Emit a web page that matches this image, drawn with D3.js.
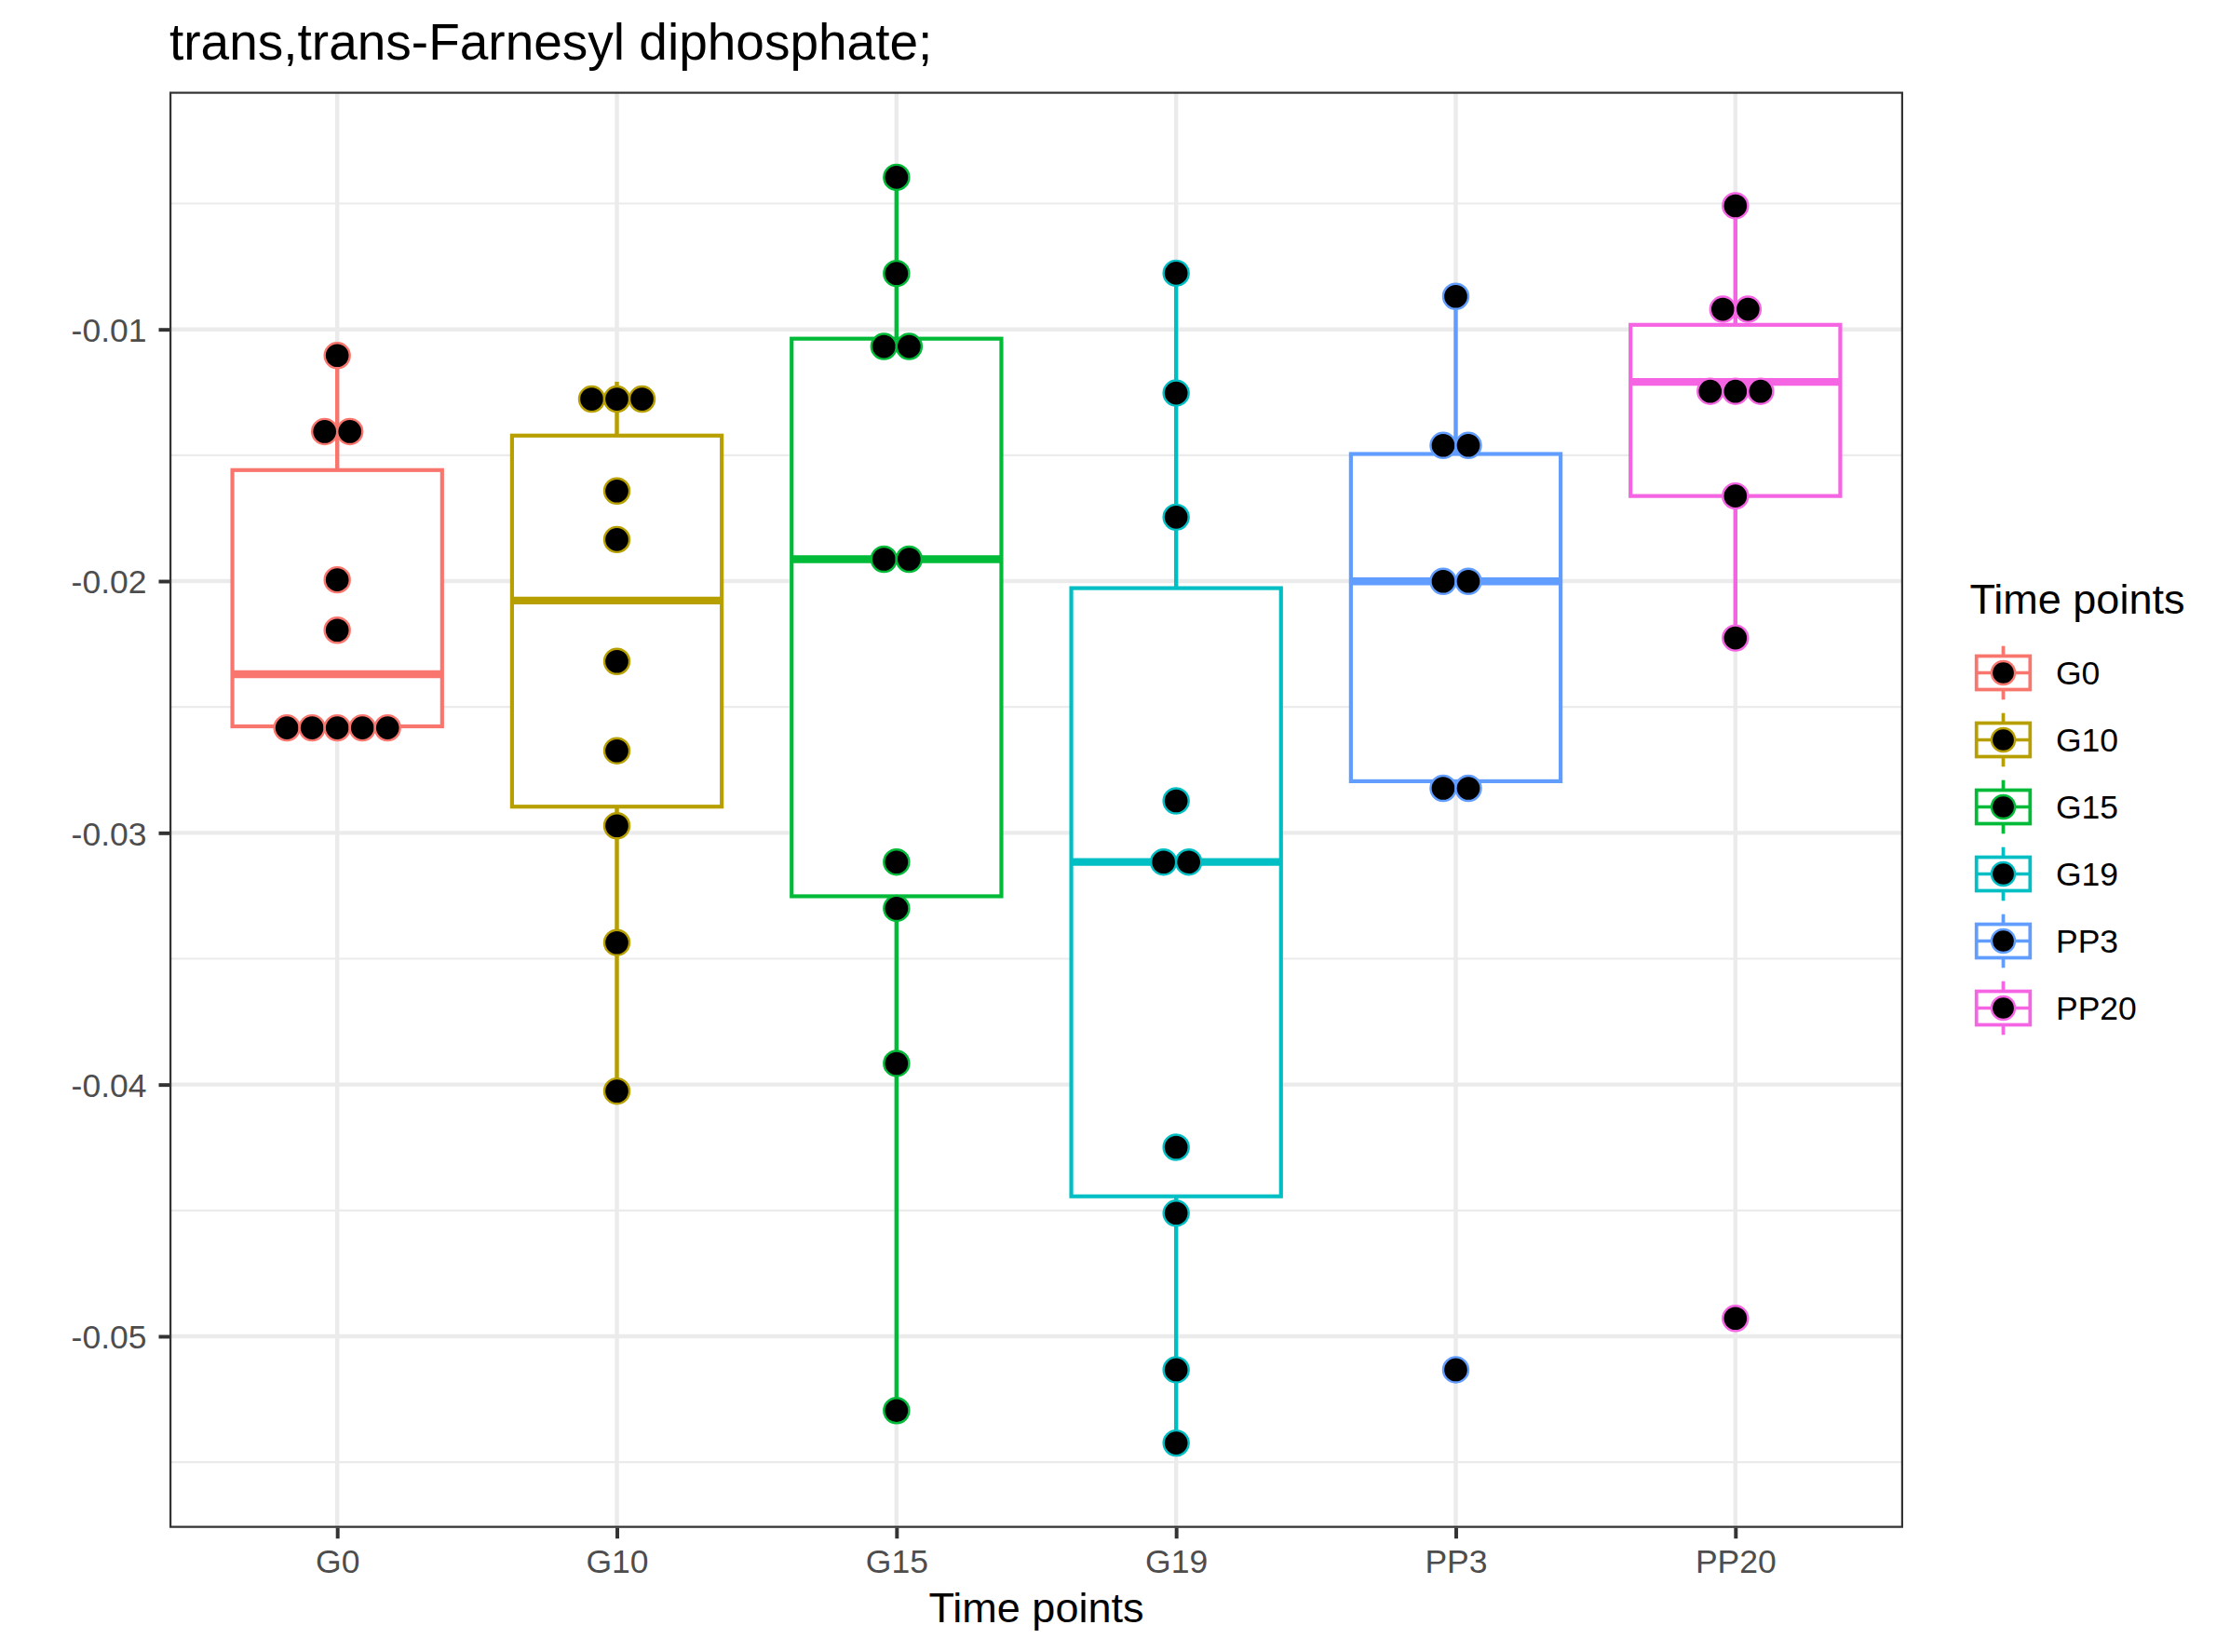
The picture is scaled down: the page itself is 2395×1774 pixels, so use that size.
<!DOCTYPE html>
<html><head><meta charset="utf-8">
<script src="https://cdn.jsdelivr.net/npm/d3@7"></script>
<style>
body{margin:0;background:#fff}
svg{display:block}
text{font-family:"Liberation Sans", Arial, Helvetica, sans-serif}
</style>
</head><body>
<svg id="chart" width="2395" height="1774"></svg>
<script>
// ---------------- data ----------------
const categories = ["G0","G10","G15","G19","PP3","PP20"];
const groupColors = ["#F8766D","#B79F00","#00BA38","#00BFC4","#619CFF","#F564E3"];

// dot positions (binned dotplot values, repeats are stacked side by side)
const dotsG0   = [-0.01104,-0.01406,-0.01406,-0.01995,-0.02195,-0.02583,-0.02583,-0.02583,-0.02583,-0.02583];
const dotsG10  = [-0.01277,-0.01277,-0.01277,-0.01642,-0.01835,-0.02319,-0.02674,-0.02972,-0.03436,-0.04026];
const dotsG15  = [-0.00396,-0.00778,-0.01068,-0.01068,-0.01913,-0.01913,-0.03116,-0.03300,-0.03916,-0.05295];
const dotsG19  = [-0.00777,-0.01253,-0.01746,-0.02873,-0.03116,-0.03116,-0.04249,-0.04511,-0.05133,-0.05424];
const dotsPP3  = [-0.00869,-0.01461,-0.01461,-0.02001,-0.02001,-0.02823,-0.02823,-0.05133];
const dotsPP20 = [-0.00509,-0.00920,-0.00920,-0.01246,-0.01246,-0.01246,-0.01662,-0.02226,-0.04929];

// boxplot statistics per category (same order as categories)
const whiskerHigh = [-0.01104,-0.01208,-0.00396,-0.00777,-0.00869,-0.00509];
const upperHinge  = [-0.01559,-0.01422,-0.01037,-0.02028,-0.01495,-0.00982];
const medians     = [-0.02370,-0.02077,-0.01913,-0.03116,-0.02001,-0.01209];
const lowerHinge  = [-0.02577,-0.02896,-0.03252,-0.04444,-0.02795,-0.01662];
const whiskerLow  = [-0.02577,-0.04026,-0.05295,-0.05424,-0.02823,-0.02226];

const yDomain = [-0.05761, -0.00056];
const yMajorTicks = [-0.05,-0.04,-0.03,-0.02,-0.01];
const yTickLabels = ["-0.05","-0.04","-0.03","-0.02","-0.01"];
const yMinorTicks = [-0.055,-0.045,-0.035,-0.025,-0.015,-0.005];
const binwidth = 0.001;

const titleText = "trans,trans-Farnesyl diphosphate;";
const xTitle = "Time points";
const legendTitle = "Time points";

// ---------------- layout ----------------
const W = 2395, H = 1774;
const P = {left:182, right:2044, top:98.5, bottom:1640.7};
const LW = 4.4;            // base line width
const smallFont = 35.5, midFont = 45, titleFont = 55;

const svg = d3.select("#chart");
svg.append("rect").attr("width",W).attr("height",H).attr("fill","#fff");

const x = d3.scalePoint().domain(categories).range([P.left,P.right]).padding(0.6);
const y = d3.scaleLinear().domain(yDomain).range([P.bottom,P.top]);
const color = d3.scaleOrdinal().domain(categories).range(groupColors);
const step = x.step();
const boxW = step*0.75;
const dotSpacing = y(-binwidth) - y(0);
const dotR = dotSpacing/2;

const dotData = {G0:dotsG0, G10:dotsG10, G15:dotsG15, G19:dotsG19, PP3:dotsPP3, PP20:dotsPP20};

// clip for panel
svg.append("defs").append("clipPath").attr("id","panelClip")
  .append("rect").attr("x",P.left).attr("y",P.top)
  .attr("width",P.right-P.left).attr("height",P.bottom-P.top);

const panel = svg.append("g").attr("clip-path","url(#panelClip)");

// grid
panel.append("g").selectAll("line").data(yMinorTicks).join("line")
  .attr("x1",P.left).attr("x2",P.right).attr("y1",d=>y(d)).attr("y2",d=>y(d))
  .attr("stroke","#EBEBEB").attr("stroke-width",LW/2);
panel.append("g").selectAll("line").data(yMajorTicks).join("line")
  .attr("x1",P.left).attr("x2",P.right).attr("y1",d=>y(d)).attr("y2",d=>y(d))
  .attr("stroke","#EBEBEB").attr("stroke-width",LW);
panel.append("g").selectAll("line").data(categories).join("line")
  .attr("y1",P.top).attr("y2",P.bottom).attr("x1",d=>x(d)).attr("x2",d=>x(d))
  .attr("stroke","#EBEBEB").attr("stroke-width",LW);

// boxplots
const boxes = categories.map((c,i)=>({cat:c, hi:whiskerHigh[i], q3:upperHinge[i], med:medians[i], q1:lowerHinge[i], lo:whiskerLow[i]}));
const bg = panel.append("g").selectAll("g").data(boxes).join("g");
bg.append("line").attr("x1",d=>x(d.cat)).attr("x2",d=>x(d.cat))
  .attr("y1",d=>y(d.q3)).attr("y2",d=>y(d.hi)).attr("stroke",d=>color(d.cat)).attr("stroke-width",LW);
bg.append("line").attr("x1",d=>x(d.cat)).attr("x2",d=>x(d.cat))
  .attr("y1",d=>y(d.q1)).attr("y2",d=>y(d.lo)).attr("stroke",d=>color(d.cat)).attr("stroke-width",LW);
bg.append("rect").attr("x",d=>x(d.cat)-boxW/2).attr("width",boxW)
  .attr("y",d=>y(d.q3)).attr("height",d=>y(d.q1)-y(d.q3))
  .attr("fill","#fff").attr("stroke",d=>color(d.cat)).attr("stroke-width",LW*0.95);
bg.append("line").attr("x1",d=>x(d.cat)-boxW/2).attr("x2",d=>x(d.cat)+boxW/2)
  .attr("y1",d=>y(d.med)).attr("y2",d=>y(d.med)).attr("stroke",d=>color(d.cat)).attr("stroke-width",LW*1.9);

// dots (centred stacks)
const dots = [];
categories.forEach(c=>{
  const counts = d3.rollup(dotData[c], v=>v.length, d=>d);
  counts.forEach((n,val)=>{
    for(let k=0;k<n;k++) dots.push({cat:c, v:val, off:(k-(n-1)/2)*dotSpacing});
  });
});
panel.append("g").selectAll("circle").data(dots).join("circle")
  .attr("cx",d=>x(d.cat)+d.off).attr("cy",d=>y(d.v)).attr("r",dotR)
  .attr("fill","#000").attr("stroke",d=>color(d.cat)).attr("stroke-width",2.4);

// panel border (half clipped like ggplot)
panel.append("rect").attr("x",P.left).attr("y",P.top)
  .attr("width",P.right-P.left).attr("height",P.bottom-P.top)
  .attr("fill","none").attr("stroke","#333333").attr("stroke-width",LW);

// axes
const yAxis = d3.axisLeft(y).tickValues(yMajorTicks).tickFormat((d,i)=>yTickLabels[i]).tickSize(11.5).tickPadding(13);
const gy = svg.append("g").attr("transform",`translate(${P.left},0)`).call(yAxis);
gy.select(".domain").remove();
gy.selectAll(".tick line").attr("stroke","#333333").attr("stroke-width",LW*0.9);
gy.selectAll(".tick text").attr("fill","#4D4D4D").attr("font-size",smallFont).attr("dy","0.36em")
  .style("font-family",'"Liberation Sans", Arial, sans-serif');

const xAxis = d3.axisBottom(x).tickSize(11.5).tickPadding(11.5);
const gx = svg.append("g").attr("transform",`translate(0,${P.bottom})`).call(xAxis);
gx.select(".domain").remove();
gx.selectAll(".tick line").attr("stroke","#333333").attr("stroke-width",LW*0.9);
gx.selectAll(".tick text").attr("fill","#4D4D4D").attr("font-size",smallFont)
  .style("font-family",'"Liberation Sans", Arial, sans-serif');

// titles
svg.append("text").attr("x",P.left).attr("y",64).attr("font-size",titleFont).attr("fill","#000").text(titleText);
svg.append("text").attr("x",(P.left+P.right)/2).attr("y",1742).attr("text-anchor","middle")
  .attr("font-size",midFont).attr("fill","#000").text(xTitle);

// legend
const L = {x:2115.5, titleY:659, firstY:722.5, gap:72, key:72, textX:2208};
const lg = svg.append("g");
lg.append("text").attr("x",L.x).attr("y",L.titleY).attr("font-size",midFont).attr("fill","#000").text(legendTitle);
const items = lg.selectAll("g.item").data(categories).join("g").attr("class","item")
  .attr("transform",(d,i)=>`translate(${L.x},${L.firstY + i*L.gap - L.key/2})`);
const k = L.key;
items.append("rect").attr("width",k).attr("height",k).attr("fill","#fff");
items.append("line").attr("x1",k/2).attr("x2",k/2).attr("y1",k*0.1).attr("y2",k*0.25)
  .attr("stroke",d=>color(d)).attr("stroke-width",LW*0.85);
items.append("line").attr("x1",k/2).attr("x2",k/2).attr("y1",k*0.75).attr("y2",k*0.9)
  .attr("stroke",d=>color(d)).attr("stroke-width",LW*0.85);
items.append("rect").attr("x",k*0.1).attr("y",k*0.25).attr("width",k*0.8).attr("height",k*0.5)
  .attr("fill","#fff").attr("stroke",d=>color(d)).attr("stroke-width",LW*0.85);
items.append("line").attr("x1",k*0.1).attr("x2",k*0.9).attr("y1",k/2).attr("y2",k/2)
  .attr("stroke",d=>color(d)).attr("stroke-width",LW*0.85);
items.append("circle").attr("cx",k/2).attr("cy",k/2).attr("r",dotR*0.93)
  .attr("fill","#000").attr("stroke",d=>color(d)).attr("stroke-width",2.4);
items.append("text").attr("x",L.textX-L.x).attr("y",k/2).attr("dy","0.36em")
  .attr("font-size",smallFont).attr("fill","#000").text(d=>d);
</script>
</body></html>
